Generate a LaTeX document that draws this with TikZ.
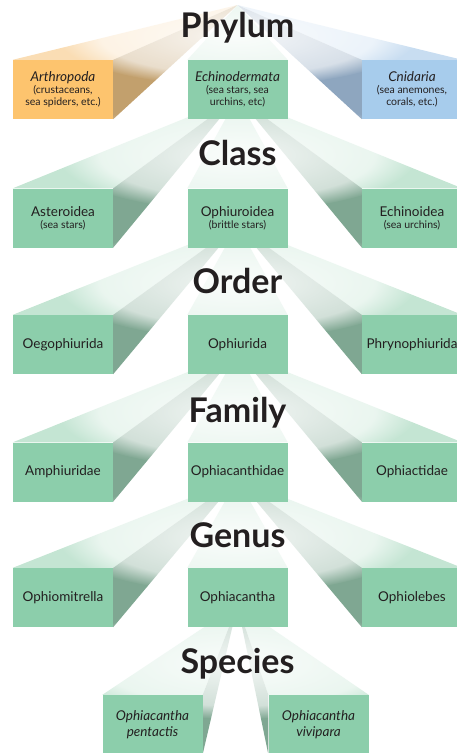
\documentclass[tikz,border=0pt]{standalone}
\usepackage{fontspec}
\setmainfont{Lato}
\usetikzlibrary{fadings}

\pgfdeclarelayer{prisms}
\pgfsetlayers{prisms,main}

\definecolor{frontgreen}{HTML}{8CCEAB}
\definecolor{topgreen}{HTML}{C4E5D3}
\definecolor{sidegreen}{HTML}{7FA792}
\definecolor{frontorange}{HTML}{FDC46E}
\definecolor{toporange}{HTML}{FADDB4}
\definecolor{sideorange}{HTML}{C2A06D}
\definecolor{frontblue}{HTML}{A7CCEC}
\definecolor{topblue}{HTML}{C8DDF1}
\definecolor{sideblue}{HTML}{8EA6BF}
\definecolor{inkblack}{HTML}{231F20}

\pgfdeclareradialshading{glowshade}{\pgfpointorigin}{color(0bp)=(black!8); color(19bp)=(black!35); color(25bp)=(black); color(50bp)=(black)}
\pgfdeclarefading{glowfade}{\pgfuseshading{glowshade}}

\newcommand{\subtxt}[1]{{\fontsize{10.5}{11.5}\selectfont #1}}

\begin{document}
\begin{tikzpicture}[x=1pt,y=-1pt,
    box/.style={rectangle, fill=frontgreen, minimum width=100pt, minimum height=59pt,
      inner sep=0pt, align=center, text=inkblack, font=\fontsize{13.5}{12}\selectfont},
    rank/.style={anchor=base, inner sep=0pt, text=inkblack,
      font=\fontsize{34}{34}\selectfont\bfseries},
    glow/.style={white, path fading=glowfade}]
        \useasboundingbox (0,0) rectangle (456,753);
        % vanishing points, one per rank
        \coordinate (vphylum)  at (237.5,  5);
        \coordinate (vclass)   at (237.5, 97);
        \coordinate (vorder)   at (237.5,225);
        \coordinate (vfamily)  at (237.5,352);
        \coordinate (vgenus)   at (237.5,479);
        \coordinate (vspecies) at (237.5,605);
        % rank titles
        \node[rank] (lphylum)  at (237.5, 37) {Phylum};
        \node[rank] (lclass)   at (237.5,165) {Class};
        \node[rank] (lorder)   at (237.5,293) {Order};
        \node[rank] (lfamily)  at (237.5,422) {Family};
        \node[rank] (lgenus)   at (237.5,547) {Genus};
        \node[rank] (lspecies) at (237.5,673) {Species};
        % phylum boxes
        \node[box, fill=frontorange] (arthro) at ( 63, 89.5) {\textit{Arthropoda}\\\subtxt{(crustaceans,}\\\subtxt{sea spiders, etc.)}};
        \node[box]                   (echino) at (237.5, 89.5) {\textit{Echinodermata}\\\subtxt{(sea stars, sea}\\\subtxt{urchins, etc)}};
        \node[box, fill=frontblue]   (cnid)   at (412, 89.5) {\textit{Cnidaria}\\\subtxt{(sea anemones,}\\\subtxt{corals, etc.)}};
        % class boxes
        \node[box] (aster)    at ( 63,  218) {Asteroidea\\\subtxt{(sea stars)}};
        \node[box] (ophiu)    at (237.5,218) {Ophiuroidea\\\subtxt{(brittle stars)}};
        \node[box] (echinoid) at (412,  218) {Echinoidea\\\subtxt{(sea urchins)}};
        % order boxes
        \node[box] (oego)   at ( 63,  344.5) {Oegophiurida};
        \node[box] (ophiur) at (237.5,344.5) {Ophiurida};
        \node[box] (phryno) at (412,  344.5) {Phrynophiurida};
        % family boxes
        \node[box] (amphi)  at ( 63,  472) {Amphiuridae};
        \node[box] (ophacd) at (237.5,472) {Ophiacanthidae};
        \node[box] (ophact) at (412,  472) {Ophiactidae};
        % genus boxes
        \node[box] (ophmit) at ( 63,  597.5) {Ophiomitrella};
        \node[box] (ophac)  at (237.5,597.5) {Ophiacantha};
        \node[box] (ophleb) at (412,  597.5) {Ophiolebes};
        % species boxes
        \node[box] (pent) at (152.5,724.5) {\textit{Ophiacantha}\\[3pt]\textit{pentactis}};
        \node[box] (vivi) at (318.5,724.5) {\textit{Ophiacantha}\\[3pt]\textit{vivipara}};
        \begin{pgfonlayer}{prisms}
        % phylum prisms
        \fill[toporange]  (arthro.north west) -- (arthro.north east) -- (vphylum) -- cycle;
        \fill[sideorange] (arthro.north east) -- (arthro.south east) -- (vphylum) -- cycle;
        \fill[topgreen]   (echino.north west) -- (echino.north east) -- (vphylum) -- cycle;
        \fill[topblue]    (cnid.north west)   -- (cnid.north east)   -- (vphylum) -- cycle;
        \fill[sideblue]   (cnid.north west)   -- (cnid.south west)   -- (vphylum) -- cycle;
        % class prisms
        \fill[topgreen]  (aster.north west)    -- (aster.north east)    -- (vclass) -- cycle;
        \fill[sidegreen] (aster.north east)    -- (aster.south east)    -- (vclass) -- cycle;
        \fill[topgreen]  (ophiu.north west)    -- (ophiu.north east)    -- (vclass) -- cycle;
        \fill[topgreen]  (echinoid.north west) -- (echinoid.north east) -- (vclass) -- cycle;
        \fill[sidegreen] (echinoid.north west) -- (echinoid.south west) -- (vclass) -- cycle;
        % order prisms
        \fill[topgreen]  (oego.north west)   -- (oego.north east)   -- (vorder) -- cycle;
        \fill[sidegreen] (oego.north east)   -- (oego.south east)   -- (vorder) -- cycle;
        \fill[topgreen]  (ophiur.north west) -- (ophiur.north east) -- (vorder) -- cycle;
        \fill[topgreen]  (phryno.north west) -- (phryno.north east) -- (vorder) -- cycle;
        \fill[sidegreen] (phryno.north west) -- (phryno.south west) -- (vorder) -- cycle;
        % family prisms
        \fill[topgreen]  (amphi.north west)  -- (amphi.north east)  -- (vfamily) -- cycle;
        \fill[sidegreen] (amphi.north east)  -- (amphi.south east)  -- (vfamily) -- cycle;
        \fill[topgreen]  (ophacd.north west) -- (ophacd.north east) -- (vfamily) -- cycle;
        \fill[topgreen]  (ophact.north west) -- (ophact.north east) -- (vfamily) -- cycle;
        \fill[sidegreen] (ophact.north west) -- (ophact.south west) -- (vfamily) -- cycle;
        % genus prisms
        \fill[topgreen]  (ophmit.north west) -- (ophmit.north east) -- (vgenus) -- cycle;
        \fill[sidegreen] (ophmit.north east) -- (ophmit.south east) -- (vgenus) -- cycle;
        \fill[topgreen]  (ophac.north west)  -- (ophac.north east)  -- (vgenus) -- cycle;
        \fill[topgreen]  (ophleb.north west) -- (ophleb.north east) -- (vgenus) -- cycle;
        \fill[sidegreen] (ophleb.north west) -- (ophleb.south west) -- (vgenus) -- cycle;
        % species prisms
        \fill[topgreen]  (pent.north west) -- (pent.north east) -- (vspecies) -- cycle;
        \fill[sidegreen] (pent.north east) -- (pent.south east) -- (vspecies) -- cycle;
        \fill[topgreen]  (vivi.north west) -- (vivi.north east) -- (vspecies) -- cycle;
        \fill[sidegreen] (vivi.north west) -- (vivi.south west) -- (vspecies) -- cycle;
        % glows behind the rank titles
        \fill[glow] (237.5, 36) ellipse (180 and 50);
        \fill[glow] (237.5,155) ellipse (180 and 56);
        \fill[glow] (237.5,283) ellipse (180 and 56);
        \fill[glow] (237.5,412) ellipse (180 and 56);
        \fill[glow] (237.5,537) ellipse (180 and 56);
        \fill[glow] (237.5,663) ellipse (180 and 56);
        \end{pgfonlayer}
      \end{tikzpicture}
\end{document}
